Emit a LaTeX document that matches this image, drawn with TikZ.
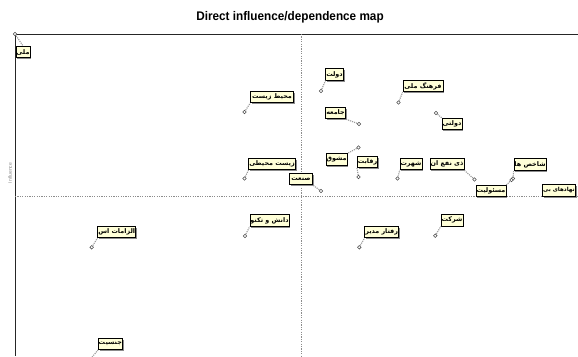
\documentclass[tikz,border=0pt]{standalone}
\usepackage{fontspec}
\setmainfont{Liberation Sans}
\newfontfamily\arabicfont[Script=Arabic]{DejaVu Sans}
\TeXXeTstate=1
\usetikzlibrary{shadows}
\definecolor{boxfill}{HTML}{FFFFD8}
\tikzset{
  lbl/.style={draw=black, line width=0.6pt, fill=boxfill, inner sep=0.5pt,
    minimum height=11.5pt, minimum width=#1, text=black,
    font=\arabicfont\bfseries\fontsize{6.4}{7}\selectfont,
    drop shadow={shadow xshift=1.3pt, shadow yshift=-1.3pt, fill=black!45, opacity=1}},
  lbl/.default=12pt,
  pt/.style={circle, draw=black!70, line width=0.6pt, fill=white, inner sep=0pt, minimum size=3.6pt},
  conn/.style={draw=black!40, line width=1.1pt, densely dotted},
  axis/.style={draw=black!85, line width=0.8pt},
  guide/.style={draw=black!45, line width=0.4pt, dash pattern=on 1.2pt off 1.2pt}
}
\begin{document}
\begin{tikzpicture}[x=1pt,y=-1pt]
\clip (0,0) rectangle (578,356);
\fill[white] (0,0) rectangle (578,356);
% title
\node[font=\bfseries\fontsize{12.5}{14}\selectfont, xscale=0.94] (title) at (290,17) {Direct influence/dependence map};
% axes
\coordinate (tl) at (15,34);
\coordinate (tr) at (578,34);
\coordinate (bl) at (15,356);
\draw[axis] (tl) -- (tr);
\draw[axis] (tl) -- (bl);
\coordinate (vtop) at (301,34);
\coordinate (vbot) at (301,356);
\coordinate (hl) at (15,196.5);
\coordinate (hr) at (578,196.5);
\draw[guide] (vtop) -- (vbot);
\draw[guide] (hl) -- (hr);
\node[rotate=90, font=\fontsize{5}{6}\selectfont, text=black!45] (ylab) at (10,173) {Influence};

% points
\node[pt] (pa) at (15,34) {};
\node[pt] (pb) at (321,91) {};
\node[pt] (pc) at (244.5,112) {};
\node[pt] (pd) at (359,124) {};
\node[pt] (pe) at (398.5,102.5) {};
\node[pt] (pf) at (436,113) {};
\node[pt] (pg) at (244.5,178.5) {};
\node[pt] (ph) at (358.5,147.5) {};
\node[pt] (pi) at (358.5,177) {};
\node[pt] (pj) at (321,191) {};
\node[pt] (pk) at (397.5,178.5) {};
\node[pt] (pl) at (474.5,179.5) {};
\node[pt] (pm) at (513,178.5) {};
\node[pt] (pn) at (511.5,180) {};
\node[pt] (pp) at (245,236) {};
\node[pt] (pq) at (91.7,247.3) {};
\node[pt] (pr) at (435.3,235.7) {};
\node[pt] (ps) at (359.3,247.3) {};
\node[pt] (pt) at (88,362) {};

% labels
\node[lbl=14pt] (ba) at (23,52) {\beginR ملی\endR};
\node[lbl=13.5pt] (bb) at (334.5,74.5) {\beginR دولت\endR};
\node[lbl=43pt] (bc) at (272,97) {\beginR محیط زیست\endR};
\node[lbl=11pt] (bd) at (335.5,113) {\beginR جامعه\endR};
\node[lbl=40pt] (be) at (423,86) {\beginR فرهنگ ملی\endR};
\node[lbl=19pt] (bf) at (452,124) {\beginR دولتی\endR};
\node[lbl=43pt] (bg) at (272,164) {\beginR زیست محیطی\endR};
\node[lbl=11.5pt] (bh) at (336.5,159.5) {\beginR مشوق\endR};
\node[lbl=13.5pt] (bi) at (367.5,162) {\beginR رقابت\endR};
\node[lbl=23pt] (bj) at (301,179) {\beginR صنعت\endR};
\node[lbl=16pt] (bk) at (411,164) {\beginR شهرت\endR};
\node[lbl=32pt] (bl2) at (447,164) {\beginR ذی نفع ان\endR};
\node[lbl=26pt] (bm) at (530,164.5) {\beginR شاخص ها\endR};
\node[lbl=28pt] (bn) at (491,191) {\beginR مسئولیت\endR};
\node[lbl=31pt, font=\arabicfont\bfseries\fontsize{5.6}{6}\selectfont, anchor=east] (bo) at (575.5,190.5) {\beginR نهادهای بی\endR};
\node[lbl=37.5pt] (bp) at (269.5,220.5) {\beginR دانش و تکنو\endR};
\node[lbl=36.5pt] (bq) at (116.7,232) {\beginR الزامات اس\endR};
\node[lbl=21pt] (br) at (452,220.3) {\beginR شرکت\endR};
\node[lbl=33pt] (bs) at (381.7,232) {\beginR رفتار مدیر\endR};
\node[lbl=22.5pt] (bt) at (110.3,344) {\beginR جنسیت\endR};

% connectors
\draw[conn] (pa) -- (ba.north);
\draw[conn] (pb) -- (bb.south west);
\draw[conn] (pc) -- (bc.south west);
\draw[conn] (pd) -- (bd.south east);
\draw[conn] (pe) -- (be.south west);
\draw[conn] (pf) -- (bf.north west);
\draw[conn] (pg) -- (bg.south west);
\draw[conn] (ph) -- (bh.north east);
\draw[conn] (pi) -- (bi.south west);
\draw[conn] (pj) -- (bj.south east);
\draw[conn] (pk) -- (bk.south west);
\draw[conn] (pl) -- (bl2.south east);
\draw[conn] (pm) -- (bm.south west);
\draw[conn] (pn) -- (bn.north east);
\draw[conn] (pp) -- (bp.south west);
\draw[conn] (pq) -- (bq.south west);
\draw[conn] (pr) -- (br.south west);
\draw[conn] (ps) -- (bs.south west);
\draw[conn] (pt) -- (bt.south west);
\end{tikzpicture}
\end{document}
